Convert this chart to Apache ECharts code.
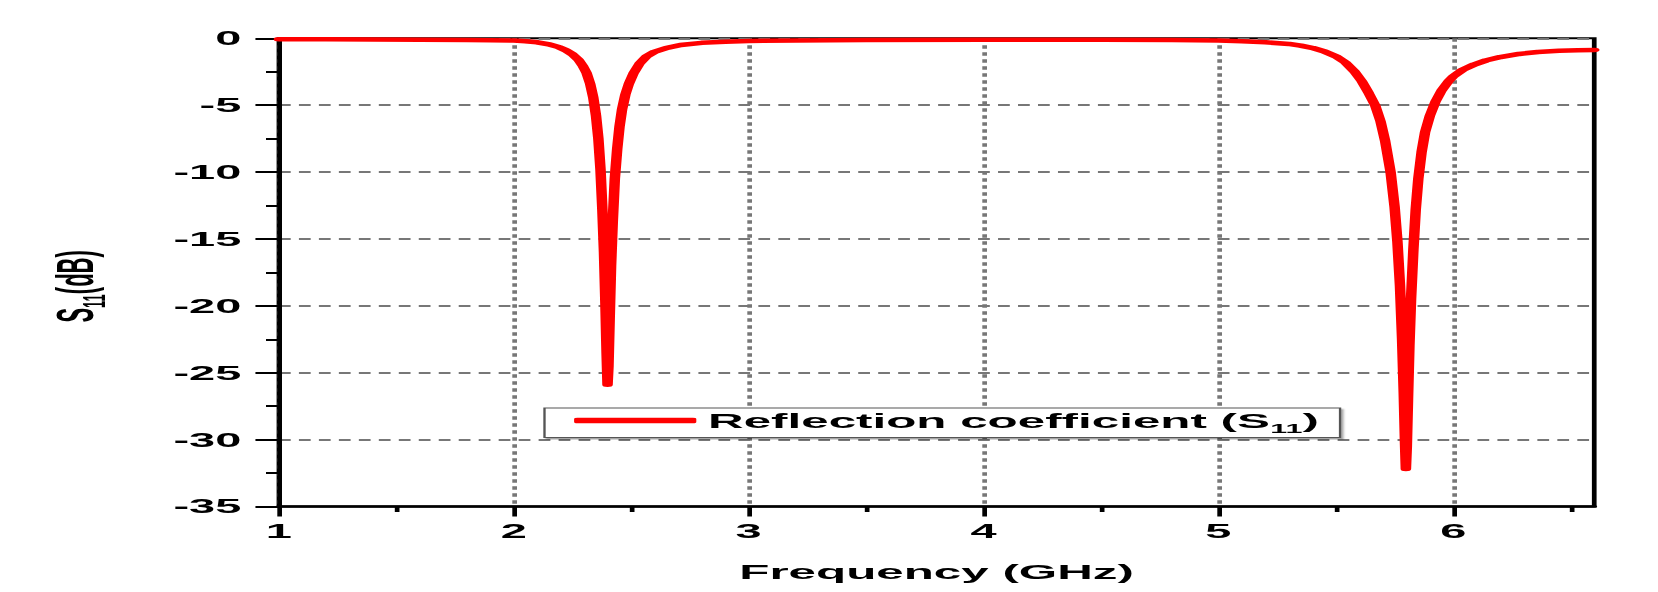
<!DOCTYPE html>
<html>
<head>
<meta charset="utf-8">
<script src="https://cdn.jsdelivr.net/npm/echarts@6/dist/echarts.min.js"></script>
<style>
  html, body { margin: 0; padding: 0; background: #fff; overflow: hidden; }
  #chart { position: absolute; left: 0; top: 0; height: 592px; transform-origin: 0 0; }
</style>
</head>
<body>
<div id="chart"></div>
<script>
// ---- data ----
const freqGHz = [1.0, 1.2, 1.4, 1.6, 1.8, 1.9, 2.0, 2.05, 2.1, 2.15, 2.19, 2.22, 2.25, 2.275, 2.295, 2.31, 2.325, 2.338, 2.35, 2.36, 2.369, 2.377, 2.384, 2.39, 2.395, 2.399, 2.403, 2.408, 2.414, 2.421, 2.43, 2.44, 2.45, 2.461, 2.475, 2.49, 2.51, 2.535, 2.565, 2.6, 2.65, 2.71, 2.8, 2.9, 3.0, 3.2, 3.5, 4.0, 4.5, 4.8, 5.0, 5.1, 5.2, 5.3, 5.35, 5.4, 5.45, 5.5, 5.54, 5.58, 5.61, 5.64, 5.667, 5.69, 5.71, 5.733, 5.75, 5.762, 5.773, 5.782, 5.789, 5.794, 5.798, 5.802, 5.807, 5.813, 5.82, 5.83, 5.84, 5.851, 5.865, 5.88, 5.9, 5.925, 5.95, 5.98, 6.0, 6.04, 6.09, 6.14, 6.2, 6.28, 6.36, 6.45, 6.53, 6.6];
const s11dB = [-0.08, -0.08, -0.09, -0.10, -0.12, -0.14, -0.17, -0.22, -0.3, -0.45, -0.65, -0.88, -1.2, -1.6, -2.1, -2.6, -3.4, -4.4, -5.8, -7.5, -9.8, -12.8, -16.0, -19.8, -23.5, -25.9, -24.5, -21.0, -17.0, -13.8, -10.5, -8.3, -6.6, -5.3, -4.2, -3.4, -2.6, -1.9, -1.35, -1.0, -0.72, -0.5, -0.34, -0.25, -0.2, -0.16, -0.13, -0.11, -0.11, -0.13, -0.17, -0.22, -0.3, -0.42, -0.55, -0.72, -0.98, -1.35, -1.8, -2.5, -3.2, -4.1, -5.0, -6.2, -7.7, -10.0, -12.6, -15.2, -18.5, -22.5, -26.5, -30.0, -32.2, -30.5, -27.0, -23.0, -19.5, -15.8, -12.8, -10.5, -8.5, -7.0, -5.8, -4.7, -3.9, -3.2, -2.85, -2.35, -1.95, -1.65, -1.4, -1.17, -1.02, -0.93, -0.89, -0.87];

const xTickValues = [1, 2, 3, 4, 5, 6];
const xMinorTickValues = [1.5, 2.5, 3.5, 4.5, 5.5, 6.5];
const yTickLabels = [0, -5, -10, -15, -20, -25, -30, -35];

const seriesName = 'Reflection coefficient (S11)';
const xAxisTitle = 'Frequency (GHz)';
const yAxisTitle = '{a|S}{b|11}{a|(dB)}';
const legendText = '{a|Reflection coefficient (S}{b|11}{a|)}';

// ---- layout (the original picture is stretched horizontally) ----
const STRETCH = 2.35;
const W = 1658 / STRETCH;
const el = document.getElementById('chart');
el.style.width = W + 'px';
el.style.transform = 'scaleX(' + STRETCH + ')';

const FONT = 'Liberation Sans, Arial, sans-serif';
const gridPos = { left: 118.7, right: 27.6, top: 38.3, bottom: 85.5 };

const points = freqGHz.map((f, i) => [f, s11dB[i]]);

const chart = echarts.init(el, null, { renderer: 'svg' });
chart.setOption({
  animation: false,
  backgroundColor: '#fff',
  grid: [
    Object.assign({ show: true, borderColor: '#000', borderWidth: 2, backgroundColor: 'transparent' }, gridPos),
    Object.assign({ show: false }, gridPos)
  ],
  legend: {
    data: [seriesName],
    left: 231.7,
    top: 408,
    orient: 'horizontal',
    padding: [2, 9, 2, 12.6],
    itemWidth: 52,
    itemHeight: 5.7,
    icon: 'roundRect',
    backgroundColor: '#fff',
    borderColor: '#555',
    borderWidth: 1,
    shadowColor: 'rgba(0,0,0,0.35)',
    shadowOffsetX: 1,
    shadowOffsetY: 1.5,
    shadowBlur: 1,
    formatter: function () { return legendText; },
    textStyle: {
      color: '#000',
      fontFamily: FONT,
      fontWeight: 'bold',
      fontSize: 21,
      rich: {
        a: { fontFamily: FONT, fontWeight: 'bold', fontSize: 21, lineHeight: 30, color: '#000' },
        b: { fontFamily: FONT, fontWeight: 'bold', fontSize: 13, lineHeight: 7, verticalAlign: 'bottom', color: '#000' }
      }
    }
  },
  xAxis: [
    {
      type: 'value',
      gridIndex: 0,
      min: 1,
      max: 6.6,
      interval: 1,
      position: 'bottom',
      name: xAxisTitle,
      nameLocation: 'middle',
      nameGap: 55,
      nameTextStyle: { color: '#000', fontFamily: FONT, fontWeight: 'bold', fontSize: 21 },
      axisLine: { show: true, onZero: false, lineStyle: { color: '#000', width: 2.5 } },
      axisTick: { show: true, inside: false, length: 10, customValues: xTickValues, lineStyle: { color: '#000', width: 2 } },
      minorTick: { show: false },
      axisLabel: { show: true, customValues: xTickValues, margin: 15, color: '#000', fontFamily: FONT, fontWeight: 'bold', fontSize: 20 },
      splitLine: { show: true, lineStyle: { color: '#777', width: 2, type: [3.5, 3.5] } }
    },
    {
      type: 'value',
      gridIndex: 1,
      min: 1,
      max: 6.6,
      interval: 1,
      position: 'bottom',
      axisLine: { show: false, onZero: false },
      axisTick: { show: true, inside: false, length: 5.5, customValues: xMinorTickValues, lineStyle: { color: '#000', width: 2 } },
      axisLabel: { show: false },
      splitLine: { show: false }
    }
  ],
  yAxis: [
    {
      type: 'value',
      gridIndex: 0,
      min: -35,
      max: 0,
      interval: 5,
      position: 'left',
      name: yAxisTitle,
      nameLocation: 'middle',
      nameGap: 72,
      nameRotate: 90,
      nameTextStyle: {
        color: '#000', fontFamily: FONT, fontWeight: 'bold', fontSize: 21,
        padding: [0, 28, 0, 0],
        rich: {
          a: { fontFamily: FONT, fontWeight: 'bold', fontSize: 22, lineHeight: 30, color: '#000' },
          b: { fontFamily: FONT, fontWeight: 'bold', fontSize: 13, lineHeight: 7, verticalAlign: 'bottom', color: '#000' }
        }
      },
      axisLine: { show: true, onZero: false, lineStyle: { color: '#000', width: 2 } },
      axisTick: { show: true, inside: false, length: 10, lineStyle: { color: '#000', width: 2 } },
      minorTick: { show: true, splitNumber: 2, length: 5.5, lineStyle: { color: '#000', width: 2 } },
      axisLabel: {
        show: true, margin: 16, color: '#000', fontFamily: FONT, fontWeight: 'bold', fontSize: 20,
        customValues: yTickLabels
      },
      splitLine: { show: true, lineStyle: { color: '#777', width: 2, type: [5, 3.5] } }
    },
    {
      type: 'value',
      gridIndex: 1,
      min: -35,
      max: 0,
      show: false
    }
  ],
  series: [
    {
      name: seriesName,
      type: 'line',
      xAxisIndex: 0,
      yAxisIndex: 0,
      data: points,
      showSymbol: false,
      symbol: 'none',
      smooth: false,
      color: '#ff0000',
      lineStyle: { color: '#ff0000', width: 4.5, cap: 'round', join: 'round' },
      z: 5
    }
  ]
});
</script>
</body>
</html>
